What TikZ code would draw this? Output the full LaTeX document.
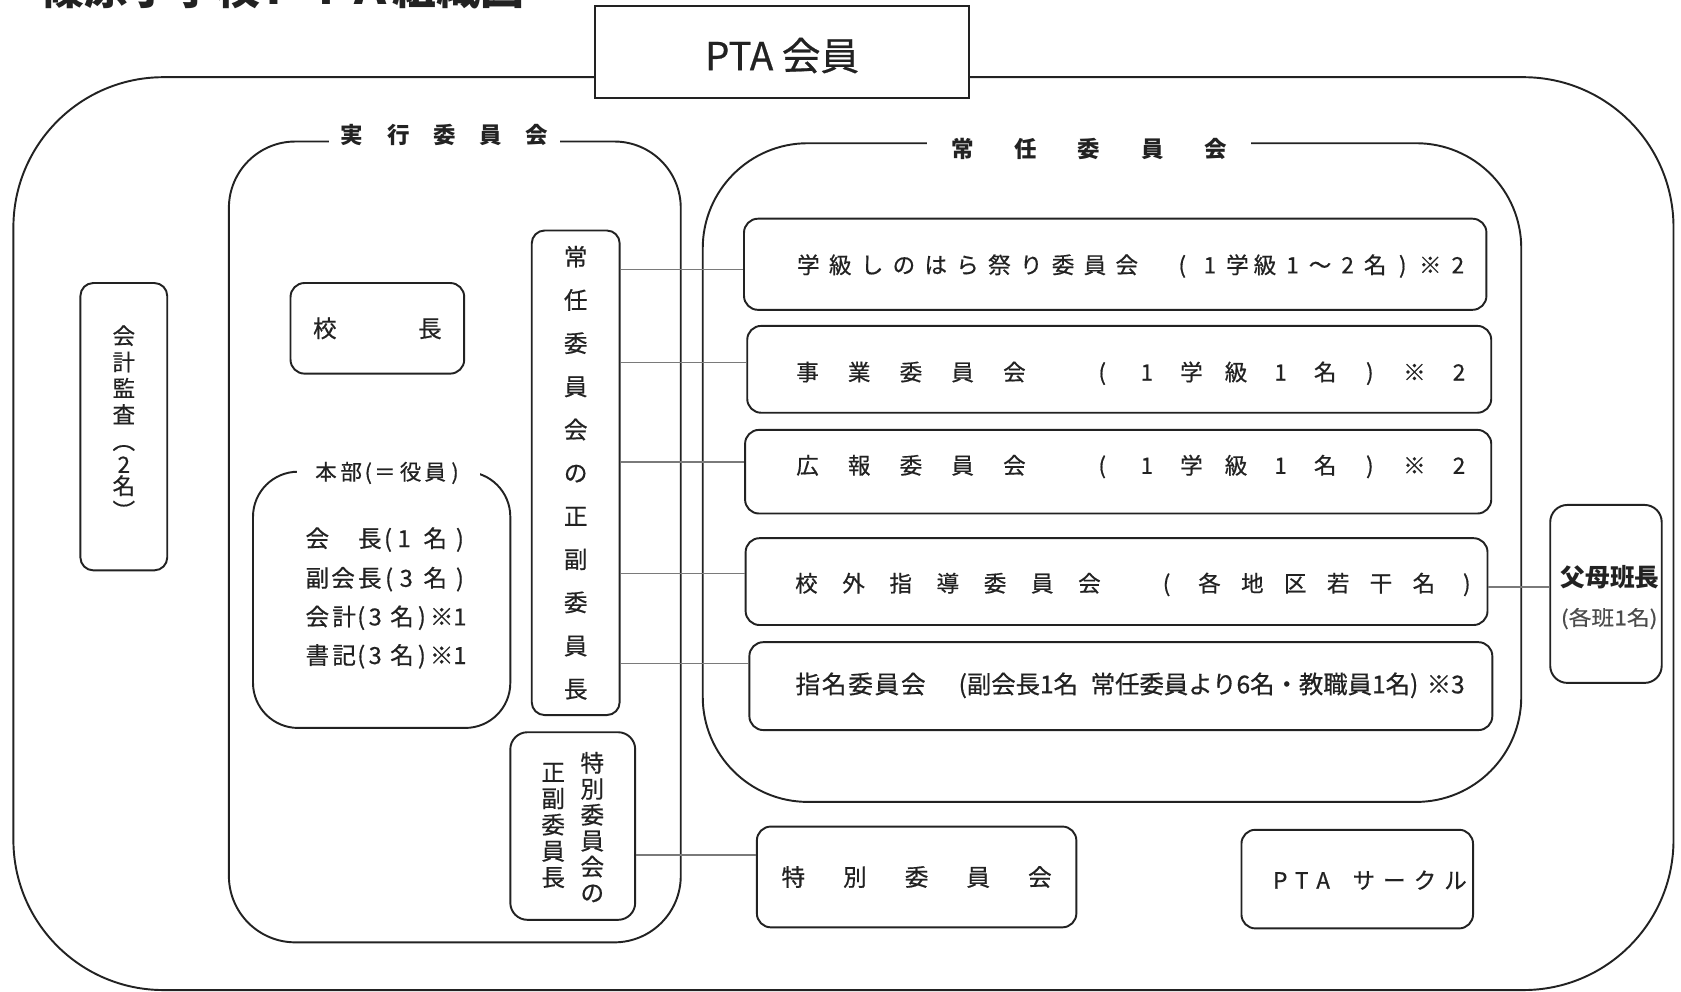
\documentclass[tikz,border=0pt]{standalone}
\usepackage{fontspec}
\setmainfont{Noto Sans CJK JP}[UprightFeatures={FakeBold=0.6}]
\usepackage{graphicx}
\definecolor{ink}{HTML}{222222}
\definecolor{lnk}{HTML}{7A7A7A}
\makeatletter
\newcommand\spc[2]{\begingroup\def\spc@w{#1}\spc@loop#2\spc@end\endgroup}
\def\spc@end{\spc@end}
\def\spc@loop#1{\ifx#1\spc@end\else\makebox[\spc@w]{#1}\expandafter\spc@loop\fi}
\newcommand\glp[2]{\rlap{\hspace*{#1pt}\makebox[0pt]{#2}}}
\makeatother
\tikzset{
 cont/.style={draw=ink, line width=1.8pt, inner sep=0pt},
 bx/.style={draw=ink, line width=1.8pt, fill=white, rounded corners=13pt, inner sep=0pt},
 conn/.style={draw=lnk, line width=1.1pt},
 tx/.style={font=\fontsize{#1pt}{#1pt}\selectfont, text height=#1*0.88pt, text depth=#1*0.12pt, inner sep=0pt},
 vt/.style={align=center, inner sep=0pt},
 hdr/.style={fill=white},
}
\begin{document}
\begin{tikzpicture}[x=1pt,y=-1pt, every node/.style={text=ink}]
\useasboundingbox (0,0) rectangle (1568,925);
% title (cut off at the top, as in the reference)
\node[anchor=base west, inner sep=0pt, font=\fontsize{41pt}{41pt}\selectfont\bfseries] (title) at (38,4) {篠原小学校ＰＴＡ組織図};
% containers
\node[cont, rounded corners=140pt, minimum width=1548.5pt, minimum height=851.5pt] (outer) at (786.75,497.75) {};
\node[cont, rounded corners=62pt, minimum width=421.5pt, minimum height=747pt] (jk) at (424.25,505.5) {};
\node[cont, rounded corners=98pt, minimum width=763.5pt, minimum height=614.4pt] (jn) at (1037.25,440.8) {};
\node[cont, rounded corners=42pt, minimum width=240pt, minimum height=239pt] (hb) at (356,559.5) {};
% headers
\node[tx=21, hdr, minimum width=213pt] (jkh) at (414.5,126) {\bfseries\spc{43pt}{実行委員会}};
\node[tx=21, hdr, minimum width=302pt] (jnh) at (1016,139) {\bfseries\spc{58.8pt}{常任委員会}};
\node[tx=20, hdr, minimum width=171pt] (hbh) at (362.5,440) {\glp{-58.5}{本}\glp{-34.8}{部}\glp{-18.9}{(}\glp{-3.5}{＝}\glp{20.5}{役}\glp{43.5}{員}\glp{62}{)}};
% PTA members
\node[bx, rounded corners=0pt, minimum width=349pt, minimum height=85.5pt, tx=36, text height=34.7pt, text depth=1.3pt] (pta) at (729.5,48.75) {PTA 会員};
% audit
\node[bx, rounded corners=12pt, minimum width=81pt, minimum height=268pt] (kansa) at (115.5,398) {};
\node[vt, font=\fontsize{21pt}{24.5pt}\selectfont] (kansat) at (115.5,394) {会\\計\\監\\査\\︵\\[-2.5pt]2\\[-4.5pt]名\\[-1pt]︶};
% principal
\node[bx, minimum width=162pt, minimum height=84.5pt, tx=22] (kocho) at (352,306.25) {\makebox[0pt]{\spc{98pt}{校長}}};
% honbu lines
\node[tx=22] (hb1) at (356,502) {\glp{-60}{会}\glp{-11}{長}\glp{6}{(}\glp{21}{1}\glp{50}{名}\glp{73}{)}};
\node[tx=22] (hb2) at (356,539) {\glp{-60}{副}\glp{-36}{会}\glp{-11}{長}\glp{7}{(}\glp{23}{3}\glp{50}{名}\glp{73}{)}};
\node[tx=22] (hb3) at (356,575) {\glp{-60}{会}\glp{-35}{計}\glp{-19}{(}\glp{-6}{3}\glp{19}{名}\glp{37.5}{)}\glp{56}{※}\glp{73}{1}};
\node[tx=22] (hb4) at (356,611) {\glp{-60}{書}\glp{-35}{記}\glp{-19}{(}\glp{-6}{3}\glp{19}{名}\glp{37.5}{)}\glp{56}{※}\glp{73}{1}};
% vertical chairs box
\node[bx, vt, rounded corners=12pt, minimum width=82pt, minimum height=452pt, font=\fontsize{22pt}{40.3pt}\selectfont] (nin) at (537,441) {常\\任\\委\\員\\会\\の\\正\\副\\委\\員\\長};
% special committee chairs
\node[bx, rounded corners=16pt, minimum width=116.5pt, minimum height=175pt] (tok) at (534.25,770.5) {};
\node[vt, font=\fontsize{22pt}{24.2pt}\selectfont] (tokr) at (552.5,771.5) {特\\別\\委\\員\\会\\の};
\node[vt, font=\fontsize{22pt}{24.5pt}\selectfont] (tokl) at (516,770) {正\\副\\委\\員\\長};
% committees
\node[bx, minimum width=692.5pt, minimum height=85pt] (c1) at (1040.25,246.5) {};
\node[tx=21, anchor=west] (c1t) at (739,247) {\spc{29.7pt}{学級しのはら祭り委員会}\hspace{24.1pt}\spc{25.7pt}{(1学級1～2名)※2}};
\node[bx, minimum width=694pt, minimum height=81pt] (c2) at (1044,344.5) {};
\node[tx=21, anchor=west] (c2t) at (728.9,347) {\spc{48.25pt}{事業委員会}\hspace{37pt}\spc{41.6pt}{(1学級1名)※2}};
\node[bx, minimum width=696pt, minimum height=78pt] (c3) at (1043,440) {};
\node[tx=21, anchor=west] (c3t) at (728.9,434) {\spc{48.25pt}{広報委員会}\hspace{37pt}\spc{41.6pt}{(1学級1名)※2}};
\node[bx, minimum width=692pt, minimum height=81pt] (c4) at (1041.5,542.5) {};
\node[tx=21, anchor=west] (c4t) at (730,544) {\spc{44pt}{校外指導委員会}\hspace{30pt}\spc{40pt}{(各地区若干名)}};
\node[bx, minimum width=693pt, minimum height=82pt] (c5) at (1045.5,640) {};
\node[tx=23, anchor=west] (c5t) at (741,638) {\spc{24.6pt}{指名委員会}\hspace{30pt}\resizebox{472pt}{\height}{(副会長1名\hspace{12pt}常任委員より6名・教職員1名)\hspace{8pt}※3}};
% special committee, circle, parents
\node[bx, minimum width=298pt, minimum height=94pt, tx=22] (tb) at (855,818) {\makebox[0pt]{\spc{57.5pt}{特別委員会}}};
\node[bx, minimum width=216pt, minimum height=92pt] (circ) at (1266,820) {};
\node[tx=21, anchor=west] (circt) at (1184,821) {\spc{20pt}{PTA}\hspace{13.75pt}\spc{28.5pt}{サークル}};
\node[bx, rounded corners=16pt, minimum width=104pt, minimum height=166pt] (fubo) at (1498,554) {};
\node[tx=23] (fubot) at (1502,538) {\bfseries 父母班長};
\node[tx=19, text=black!70] (fubos) at (1501,576) {\resizebox{90pt}{\height}{(各班1名)}};
% connectors
\coordinate (ya) at (0,251.5);
\coordinate (yb) at (0,338.5);
\coordinate (yc) at (0,431);
\coordinate (yd) at (0,535);
\coordinate (ye) at (0,619);
\coordinate (yf) at (0,547.6);
\coordinate (yg) at (0,797.6);
\draw[conn] (nin.east |- ya) -- (c1.west |- ya);
\draw[conn] (nin.east |- yb) -- (c2.west |- yb);
\draw[conn] (nin.east |- yc) -- (c3.west |- yc);
\draw[conn] (nin.east |- yd) -- (c4.west |- yd);
\draw[conn] (nin.east |- ye) -- (c5.west |- ye);
\draw[conn] (c4.east |- yf) -- (fubo.west |- yf);
\draw[conn] (tok.east |- yg) -- (tb.west |- yg);
\end{tikzpicture}
\end{document}
